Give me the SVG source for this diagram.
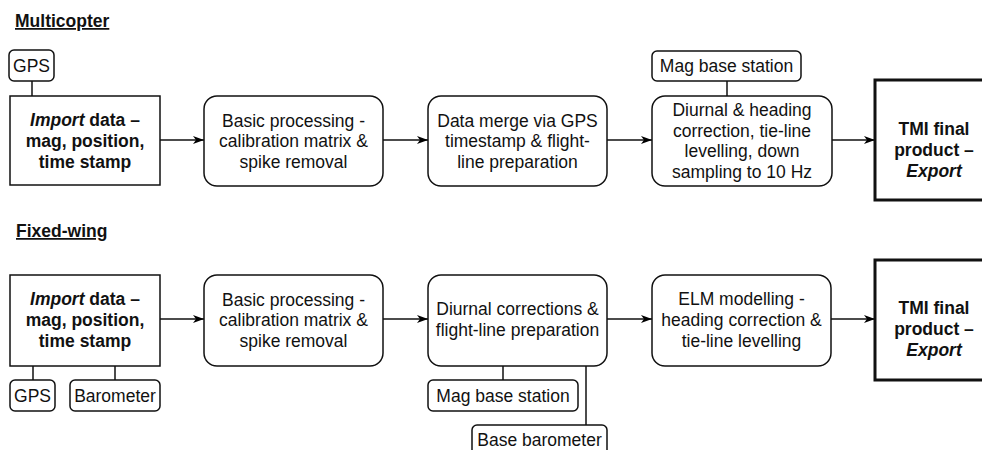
<svg xmlns="http://www.w3.org/2000/svg" width="982" height="450" viewBox="0 0 982 450">
  <defs>
    <marker id="arrow" markerUnits="userSpaceOnUse" markerWidth="12" markerHeight="10" refX="11" refY="5" orient="auto">
      <path d="M0,1 L11,5 L0,9 L3,5 Z" fill="#000"/>
    </marker>
    <style>
      text { font-family: "Liberation Sans", Arial, Helvetica, sans-serif; font-size: 17.5px; fill: #111; text-anchor: middle; }
      .b { font-weight: bold; }
      .i { font-style: italic; }
      .title { font-weight: bold; text-anchor: start; text-decoration: underline; }
      .box { fill: #fff; stroke: #111; stroke-width: 1.5; }
      .final { fill: #fff; stroke: #111; stroke-width: 3; }
      .link { stroke: #111; stroke-width: 1.5; fill: none; }
      .flow { stroke: #111; stroke-width: 1.5; fill: none; marker-end: url(#arrow); }
    </style>
  </defs>
  <rect width="982" height="450" fill="#fff"/>

  <!-- Section headings -->
  <text class="title" x="15" y="27">Multicopter</text>
  <text class="title" x="16" y="237">Fixed-wing</text>

  <!-- Connectors -->
  <g id="connectors">
    <!-- Multicopter chain -->
    <line class="flow" x1="160" y1="140" x2="204" y2="140"/>
    <line class="flow" x1="383" y1="140" x2="428" y2="140"/>
    <line class="flow" x1="607" y1="140" x2="652" y2="140"/>
    <line class="flow" x1="832" y1="140" x2="875" y2="140"/>
    <line class="link" x1="32" y1="81" x2="32" y2="96"/>
    <line class="link" x1="727" y1="81" x2="727" y2="96"/>
    <!-- Fixed-wing chain -->
    <line class="flow" x1="160" y1="319" x2="204" y2="319"/>
    <line class="flow" x1="383" y1="319" x2="428" y2="319"/>
    <line class="flow" x1="607" y1="319" x2="652" y2="319"/>
    <line class="flow" x1="831" y1="319" x2="875" y2="319"/>
    <line class="link" x1="33" y1="366" x2="33" y2="380"/>
    <line class="link" x1="115" y1="366" x2="115" y2="380"/>
    <line class="link" x1="503" y1="366" x2="503" y2="380"/>
    <line class="link" x1="586" y1="366" x2="586" y2="425"/>
  </g>

  <!-- Multicopter nodes -->
  <g id="mc-gps">
    <rect class="box" x="9" y="50" width="45" height="31" rx="5"/>
    <text x="31.5" y="71.5">GPS</text>
  </g>
  <g id="mc-import">
    <rect class="box" x="10" y="96" width="150" height="89"/>
    <text class="b" x="85" y="126"><tspan class="i">Import</tspan> data –</text>
    <text class="b" x="85" y="147">mag, position,</text>
    <text class="b" x="85" y="168">time stamp</text>
  </g>
  <g id="mc-basic">
    <rect class="box" x="204" y="96" width="179" height="90" rx="13"/>
    <text x="293.5" y="126.5">Basic processing -</text>
    <text x="293.5" y="147">calibration matrix &amp;</text>
    <text x="293.5" y="167.5">spike removal</text>
  </g>
  <g id="mc-merge">
    <rect class="box" x="428" y="96" width="179" height="90" rx="13"/>
    <text x="517.5" y="126.5">Data merge via GPS</text>
    <text x="517.5" y="147">timestamp &amp; flight-</text>
    <text x="517.5" y="167.5">line preparation</text>
  </g>
  <g id="mc-magbase">
    <rect class="box" x="652" y="51" width="149" height="30" rx="5"/>
    <text x="726.5" y="72">Mag base station</text>
  </g>
  <g id="mc-diurnal">
    <rect class="box" x="652" y="96" width="180" height="90" rx="13"/>
    <text x="742" y="116">Diurnal &amp; heading</text>
    <text x="742" y="136.5">correction, tie-line</text>
    <text x="742" y="157">levelling, down</text>
    <text x="742" y="177.5">sampling to 10 Hz</text>
  </g>
  <g id="mc-final">
    <rect class="final" x="875" y="80" width="118" height="120"/>
    <text class="b" x="934" y="135">TMI final</text>
    <text class="b" x="934" y="156">product –</text>
    <text class="b i" x="934" y="177">Export</text>
  </g>

  <!-- Fixed-wing nodes -->
  <g id="fw-import">
    <rect class="box" x="10" y="275" width="150" height="91"/>
    <text class="b" x="85" y="305"><tspan class="i">Import</tspan> data –</text>
    <text class="b" x="85" y="326">mag, position,</text>
    <text class="b" x="85" y="347">time stamp</text>
  </g>
  <g id="fw-gps">
    <rect class="box" x="10" y="380" width="45" height="31" rx="5"/>
    <text x="32.5" y="401.5">GPS</text>
  </g>
  <g id="fw-barometer">
    <rect class="box" x="70" y="380" width="90" height="31" rx="5"/>
    <text x="115" y="401.5">Barometer</text>
  </g>
  <g id="fw-basic">
    <rect class="box" x="204" y="275" width="179" height="91" rx="13"/>
    <text x="293.5" y="305.5">Basic processing -</text>
    <text x="293.5" y="326">calibration matrix &amp;</text>
    <text x="293.5" y="346.5">spike removal</text>
  </g>
  <g id="fw-diurnal">
    <rect class="box" x="428" y="275" width="179" height="91" rx="13"/>
    <text x="517.5" y="315">Diurnal corrections &amp;</text>
    <text x="517.5" y="336">flight-line preparation</text>
  </g>
  <g id="fw-magbase">
    <rect class="box" x="428" y="380" width="150" height="31" rx="5"/>
    <text x="503" y="401.5">Mag base station</text>
  </g>
  <g id="fw-basebaro">
    <rect class="box" x="472" y="425" width="135" height="32" rx="5"/>
    <text x="539.5" y="446">Base barometer</text>
  </g>
  <g id="fw-elm">
    <rect class="box" x="652" y="275" width="179" height="91" rx="13"/>
    <text x="741.5" y="305">ELM modelling -</text>
    <text x="741.5" y="326">heading correction &amp;</text>
    <text x="741.5" y="347">tie-line levelling</text>
  </g>
  <g id="fw-final">
    <rect class="final" x="875" y="260" width="118" height="120"/>
    <text class="b" x="934" y="314">TMI final</text>
    <text class="b" x="934" y="335">product –</text>
    <text class="b i" x="934" y="356">Export</text>
  </g>
</svg>
